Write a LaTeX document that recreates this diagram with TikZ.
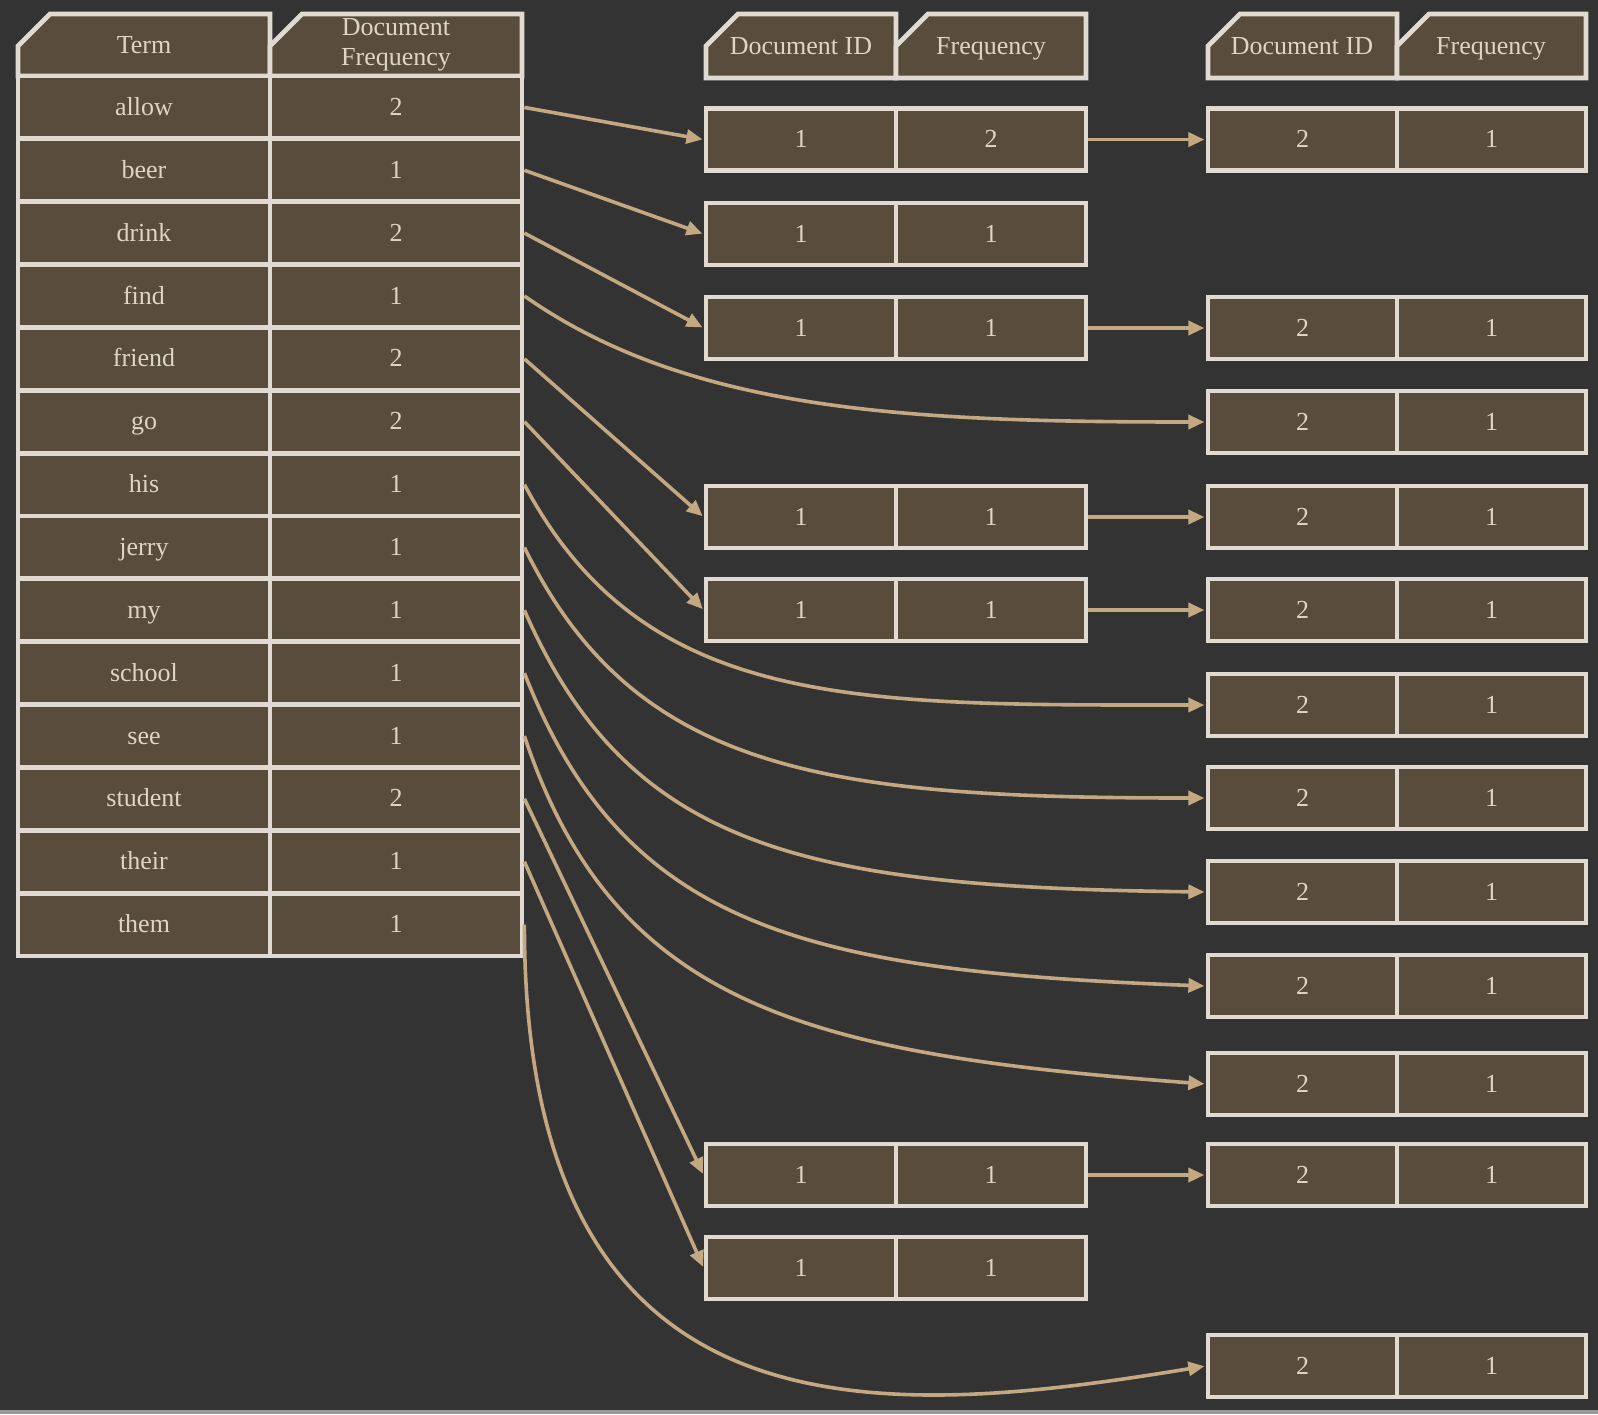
\documentclass[tikz,border=0pt]{standalone}
\usepackage{fontspec}
\setmainfont{Liberation Serif}
\usetikzlibrary{arrows.meta}
\definecolor{bgc}{HTML}{333333}
\definecolor{cellc}{HTML}{584C3C}
\definecolor{edgec}{HTML}{E0DAD0}
\definecolor{linkc}{HTML}{C4A882}
\definecolor{textc}{HTML}{DDD5C6}
\begin{document}
\begin{tikzpicture}[x=0.5pt,y=-0.5pt,
  cellbox/.style={draw=edgec, line width=2.4pt, fill=cellc, inner sep=0pt, text=textc,
     font=\fontsize{13}{15}\selectfont, text height=10pt, text depth=2pt},
  termcell/.style={cellbox, minimum width=126pt, minimum height=31.43pt},
  postcell/.style={cellbox, minimum width=94.5pt, minimum height=31pt},
  headbox/.style={draw=edgec, line width=2.4pt, fill=cellc, line join=miter},
  headtext/.style={text=textc, font=\fontsize{13}{15}\selectfont, align=center, inner sep=0pt},
  onehead/.style={headtext, text height=10pt, text depth=2pt},
  link/.style={draw=linkc, line width=1.8pt, -{Triangle[length=8pt,width=7pt]}, shorten >=0.6pt}
]
\fill[bgc] (0,0) rectangle (1598,1414);
\useasboundingbox (0,0) rectangle (1598,1414);
\fill[color=black!40] (0,1410) rectangle (1598,1414);

% ---- headers ----
\draw[headbox] (18,76) -- (18,46) -- (50,14) -- (270,14) -- (270,76) -- cycle;
\draw[headbox] (270,76) -- (270,46) -- (302,14) -- (522,14) -- (522,76) -- cycle;
\node[onehead] (hterm) at (144,45) {Term};
\node[headtext] (hdf) at (396,45) {Document\\Frequency};

\draw[headbox] (706,78) -- (706,46) -- (738,14) -- (896,14) -- (896,78) -- cycle;
\draw[headbox] (896,78) -- (896,46) -- (928,14) -- (1086,14) -- (1086,78) -- cycle;
\node[onehead] (hmid) at (801,46) {Document ID};
\node[onehead] (hmfq) at (991,46) {Frequency};

\draw[headbox] (1208,78) -- (1208,46) -- (1240,14) -- (1397,14) -- (1397,78) -- cycle;
\draw[headbox] (1397,78) -- (1397,46) -- (1429,14) -- (1586,14) -- (1586,78) -- cycle;
\node[onehead] (hrid) at (1302,46) {Document ID};
\node[onehead] (hrfq) at (1491,46) {Frequency};

% ---- term table ----
\foreach \w/\f [count=\i] in {allow/2,beer/1,drink/2,find/1,friend/2,go/2,his/1,jerry/1,my/1,school/1,see/1,student/2,their/1,them/1} {
  \pgfmathsetmacro\yy{76+62.857*(\i-0.5)}
  \node[termcell] (t\i) at (144,\yy) {\w};
  \node[termcell] (d\i) at (396,\yy) {\f};
}

% ---- first postings ----
\foreach \n/\yy/\a/\b in {1/139.6/1/2, 2/234/1/1, 3/328/1/1, 4/517/1/1, 5/610/1/1, 6/1175/1/1, 7/1268/1/1} {
  \node[postcell, minimum width=95pt] (ma\n) at (801,\yy) {\a};
  \node[postcell, minimum width=95pt] (mb\n) at (991,\yy) {\b};
}

% ---- second postings ----
\foreach \n/\yy in {1/139.6, 2/328, 3/422, 4/517, 5/610, 6/705, 7/798, 8/892, 9/986, 10/1084, 11/1175, 12/1366} {
  \node[postcell] (ra\n) at (1302.5,\yy) {2};
  \node[postcell] (rb\n) at (1491.5,\yy) {1};
}

% ---- connectors ----
\draw[link] (d1.east) -- (ma1.west);
\draw[link] (d2.east) -- (ma2.west);
\draw[link] (d3.east) -- (ma3.west);
\draw[link] (d5.east) -- (ma4.west);
\draw[link] (d6.east) -- (ma5.west);
\draw[link] (d12.east) -- (ma6.west);
\draw[link] (d13.east) -- (ma7.west);

\draw[link] (mb1.east) -- (ra1.west);
\draw[link] (mb3.east) -- (ra2.west);
\draw[link] (mb4.east) -- (ra4.west);
\draw[link] (mb5.east) -- (ra5.west);
\draw[link] (mb6.east) -- (ra11.west);

\draw[link] (d4.east) .. controls +(164,115) and +(-300,0) .. (ra3.west);
\draw[link] (d7.east) .. controls +(120,225) and +(-350,0) .. (ra6.west);
\draw[link] (d8.east) .. controls +(110,225) and +(-380,0) .. (ra7.west);
\draw[link] (d9.east) .. controls +(105,240) and +(-400,-5) .. (ra8.west);
\draw[link] (d10.east) .. controls +(100,255) and +(-400,-15) .. (ra9.west);
\draw[link] (d11.east) .. controls +(90,270) and +(-400,-30) .. (ra10.west);
\draw[link] (d14.east) .. controls +(0,525) and +(-328,54) .. (ra12.west);
\end{tikzpicture}
\end{document}
